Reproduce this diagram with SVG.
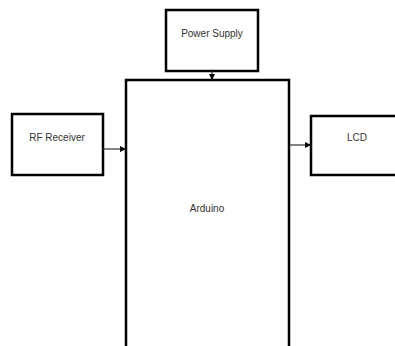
<svg xmlns="http://www.w3.org/2000/svg" width="395" height="346" viewBox="0 0 395 346">
<style>
.box{fill:#fff;stroke:#000;stroke-width:2.5}
.lbl{font-family:"Liberation Sans",Arial,sans-serif;font-size:10px;fill:#333;text-anchor:middle}
.conn{stroke:#333;stroke-width:1.2;fill:none}
</style>
<defs>
<marker id="ah" markerWidth="6" markerHeight="6" refX="6" refY="3" orient="auto" markerUnits="userSpaceOnUse">
<path d="M0,0 L6,3 L0,6 Z" fill="#000"/>
</marker>
</defs>
<rect width="395" height="346" fill="#fff"/>
<g id="arduino">
<path class="box" d="M126,350 L126,80 L289,80 L289,350"/>
<text class="lbl" x="207" y="212">Arduino</text>
</g>
<g id="power-supply">
<rect class="box" x="166" y="10" width="92" height="61"/>
<text class="lbl" x="212" y="37">Power Supply</text>
</g>
<g id="rf-receiver">
<rect class="box" x="12" y="114" width="91" height="61"/>
<text class="lbl" x="57" y="141">RF Receiver</text>
</g>
<g id="lcd">
<path class="box" d="M400,116 L311,116 L311,175 L400,175"/>
<text class="lbl" x="357" y="141">LCD</text>
</g>
<g id="connectors">
<line class="conn" x1="212" y1="71" x2="212" y2="80" marker-end="url(#ah)"/>
<line class="conn" x1="103" y1="149" x2="126" y2="149" marker-end="url(#ah)"/>
<line class="conn" x1="289" y1="145" x2="311" y2="145" marker-end="url(#ah)"/>
</g>
</svg>
